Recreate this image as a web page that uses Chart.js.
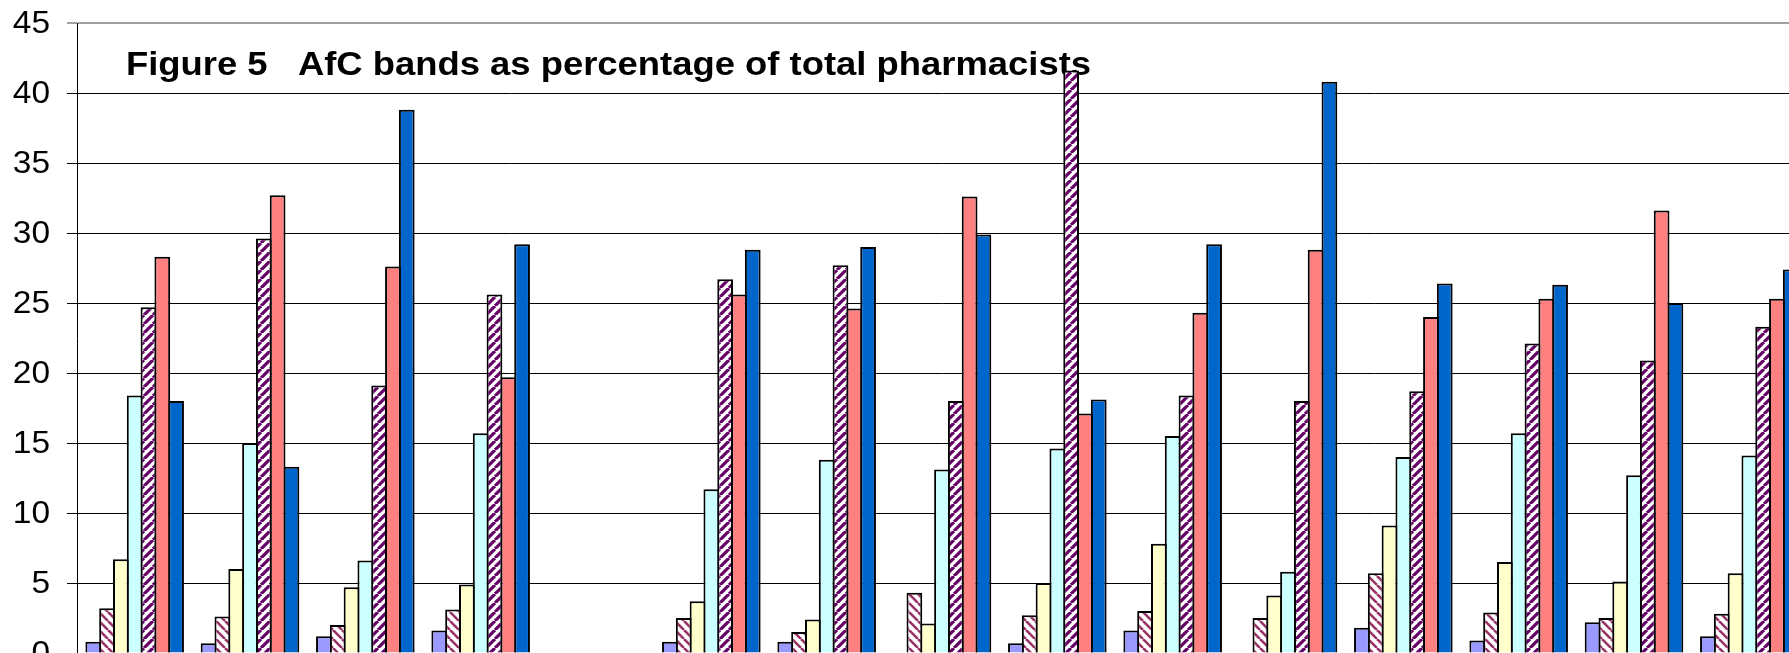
<!DOCTYPE html>
<html>
<head>
<meta charset="utf-8">
<script src="https://cdn.jsdelivr.net/npm/chart.js@4/dist/chart.umd.min.js"></script>
<style>
  html, body { margin: 0; padding: 0; background: #fff; overflow: hidden; }
  #wrap { width: 1830px; height: 700px; }
</style>
</head>
<body>
<div id="wrap"><canvas id="afc" width="1830" height="700"></canvas></div>
<script>
// Figure 5 - AfC bands as percentage of total pharmacists
var titleText = 'Figure 5   AfC bands as percentage of total pharmacists';

// categories (labels sit below the visible part of the figure)
var groups = ['1', '2', '3', '4', '5', '6', '7', '8', '9', '10', '11', '12', '13', '14', '15'];
var seriesNames = ['Series 1', 'Series 2', 'Series 3', 'Series 4', 'Series 5', 'Series 6', 'Series 7'];

// percentages, one array per band series
var band1 = [0.8, 0.7, 1.2, 1.6, null, 0.8, 0.8, null, 0.7, 1.6, null, 1.8, 0.9, 2.2, 1.2];
var band2 = [3.2, 2.6, 2.0, 3.1, null, 2.5, 1.5, 4.3, 2.7, 3.0, 2.5, 5.7, 2.9, 2.5, 2.8];
var band3 = [6.7, 6.0, 4.7, 4.9, null, 3.7, 2.4, 2.1, 5.0, 7.8, 4.1, 9.1, 6.5, 5.1, 5.7];
var band4 = [18.4, 15.0, 6.6, 15.7, null, 11.7, 13.8, 13.1, 14.6, 15.5, 5.8, 14.0, 15.7, 12.7, 14.1];
var band5 = [24.7, 29.6, 19.1, 25.6, null, 26.7, 27.7, 18.0, 41.6, 18.4, 18.0, 18.7, 22.1, 20.9, 23.3];
var band6 = [28.3, 32.7, 27.6, 19.7, null, 25.6, 24.6, 32.6, 17.1, 24.3, 28.8, 24.0, 25.3, 31.6, 25.3];
var band7 = [18.0, 13.3, 38.8, 29.2, null, 28.8, 29.0, 29.9, 18.1, 29.2, 40.8, 26.4, 26.3, 25.0, 27.4];

var yMin = 0, yMax = 45, yStep = 5;

// diagonal hatch fill, dir 1 = "///", dir -1 = "\\\"
function hatch(color, dir, width) {
  var size = 9;
  var c = document.createElement('canvas');
  c.width = size; c.height = size;
  var g = c.getContext('2d');
  g.fillStyle = '#fff';
  g.fillRect(0, 0, size, size);
  g.strokeStyle = color;
  g.lineWidth = width;
  g.beginPath();
  [-size, 0, size].forEach(function (o) {
    if (dir > 0) { g.moveTo(o, size); g.lineTo(o + size, 0); }
    else { g.moveTo(o, 0); g.lineTo(o + size, size); }
  });
  g.stroke();
  return g.createPattern(c, 'repeat');
}

var fills = [
  '#9999FF',
  hatch('#993366', -1, 2.6),
  '#FFFFCC',
  '#CCFFFF',
  hatch('#660066', 1, 3.2),
  '#FF8080',
  '#0066CC'
];
var bands = [band1, band2, band3, band4, band5, band6, band7];

// the original figure is a little stretched sideways, so its texts are too
var textPlugin = {
  id: 'figTexts',
  beforeDatasetsDraw: function (chart) {
    var ctx = chart.ctx;
    ctx.save();
    ctx.font = 'bold 33px "Liberation Sans", Arial, sans-serif';
    ctx.fillStyle = '#000';
    ctx.textBaseline = 'alphabetic';
    var w = ctx.measureText(titleText).width;
    ctx.translate(126, 75);
    ctx.scale(965 / w, 1);
    ctx.fillText(titleText, 0, 0);
    ctx.restore();
  },
  afterDraw: function (chart) {
    var s = chart.scales.y, ctx = chart.ctx;
    ctx.save();
    ctx.font = '31px "Liberation Sans", Arial, sans-serif';
    ctx.fillStyle = '#000';
    ctx.textAlign = 'right';
    ctx.textBaseline = 'middle';
    s.ticks.forEach(function (t) {
      ctx.save();
      ctx.translate(50, s.getPixelForValue(t.value) + 1);
      ctx.scale(1.08, 1);
      ctx.fillText(String(t.value), 0, 0);
      ctx.restore();
    });
    ctx.restore();
  }
};

new Chart(document.getElementById('afc'), {
  type: 'bar',
  data: {
    labels: groups,
    datasets: bands.map(function (d, i) {
      return {
        label: seriesNames[i],
        data: d,
        backgroundColor: fills[i],
        borderColor: '#000',
        borderWidth: 2,
        categoryPercentage: 0.838,
        barPercentage: 1.14
      };
    })
  },
  options: {
    responsive: false,
    animation: false,
    devicePixelRatio: 1,
    layout: { padding: { top: 23, right: 23, bottom: 47, left: 0 } },
    plugins: { legend: { display: false }, tooltip: { enabled: false }, title: { display: false } },
    scales: {
      x: { display: false, offset: true, grid: { display: false } },
      y: {
        min: yMin, max: yMax,
        afterFit: function (s) { s.width = 77; },
        border: { color: '#000', width: 1 },
        grid: {
          color: function (c) { return c.tick && c.tick.value === yMax ? '#a0a0a0' : '#000'; },
          lineWidth: function (c) { return c.tick && c.tick.value === yMax ? 2 : 1; },
          drawTicks: true,
          tickLength: 10
        },
        ticks: { stepSize: yStep, display: false }
      }
    }
  },
  plugins: [textPlugin]
});
</script>
</body>
</html>
